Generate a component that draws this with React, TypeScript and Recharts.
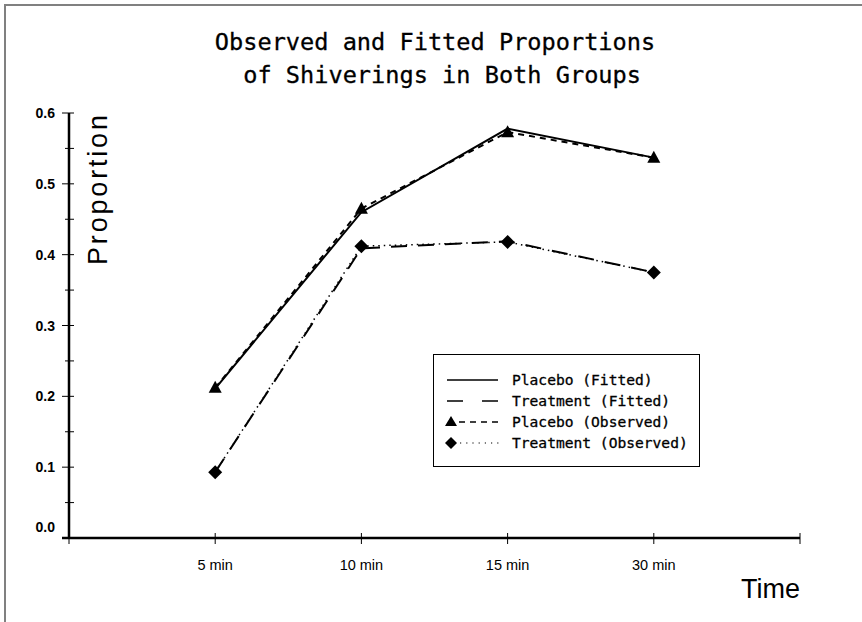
import React from "react";
import { LineChart, Line, XAxis, YAxis, Legend, Label } from "recharts";

const categories = ["5 min", "10 min", "15 min", "30 min"];
const placeboFitted = [0.211, 0.46, 0.578, 0.537];
const treatmentFitted = [0.093, 0.409, 0.419, 0.375];
const placeboObserved = [0.212, 0.465, 0.573, 0.537];
const treatmentObserved = [0.093, 0.412, 0.418, 0.375];
const xTicks = [0, 1, 2, 3, 4, 5];
const yTicks = [0, 0.05, 0.1, 0.15, 0.2, 0.25, 0.3, 0.35, 0.4, 0.45, 0.5, 0.55, 0.6];

const data = categories.map((label, i) => ({
  pos: i + 1,
  label,
  placeboFitted: placeboFitted[i],
  treatmentFitted: treatmentFitted[i],
  placeboObserved: placeboObserved[i],
  treatmentObserved: treatmentObserved[i],
}));

const mono = "'DejaVu Sans Mono', monospace";
const sans = "'Liberation Sans', Arial, sans-serif";

const renderTriangle = (props: any) => {
  const { cx, cy, index } = props;
  return (
    <path
      key={`tri-${index}`}
      d={`M${cx},${cy - 7} L${cx + 6.5},${cy + 5} L${cx - 6.5},${cy + 5} Z`}
      fill="#000"
    />
  );
};

const renderDiamond = (props: any) => {
  const { cx, cy, index } = props;
  return (
    <path
      key={`dia-${index}`}
      d={`M${cx},${cy - 7} L${cx + 7},${cy} L${cx},${cy + 7} L${cx - 7},${cy} Z`}
      fill="#000"
    />
  );
};

const series = [
  { key: "placeboFitted", name: "Placebo (Fitted)", dash: undefined, dot: false as any },
  { key: "treatmentFitted", name: "Treatment (Fitted)", dash: "16 11", dot: false as any },
  { key: "placeboObserved", name: "Placebo (Observed)", dash: "6 5", dot: renderTriangle },
  { key: "treatmentObserved", name: "Treatment (Observed)", dash: "1.5 4", dot: renderDiamond },
];

const XTick = (props: any) => {
  const { x, y, payload } = props;
  const label = categories[payload.value - 1];
  return (
    <g>
      <line x1={x} x2={x} y1={y - 5} y2={y + 6} stroke="#000" strokeWidth={1} />
      {payload.value === 0 && <line x1={x - 7} x2={x} y1={y} y2={y} stroke="#000" strokeWidth={2.5} />}
      {label && (
        <text x={x} y={y + 32} textAnchor="middle" fontFamily={sans} fontSize={14.5} fill="#000">
          {label}
        </text>
      )}
    </g>
  );
};

const YTick = (props: any) => {
  const { x, y, payload } = props;
  const v = payload.value;
  const major = Math.abs(Math.round(v * 10) - v * 10) < 1e-6;
  return (
    <g>
      <line x1={major ? x - 7 : x - 4} x2={x + 5} y1={y} y2={y} stroke="#000" strokeWidth={1} />
      {major && (
        <text
          x={x - 14}
          y={v === 0 ? y - 6 : y + 5}
          textAnchor="end"
          fontFamily={sans}
          fontWeight="bold"
          fontSize={14}
          fill="#000"
        >
          {v.toFixed(1)}
        </text>
      )}
    </g>
  );
};

const LegendBox = () => (
  <svg width={267} height={113} style={{ display: "block" }}>
    <rect x={0.5} y={0.5} width={266} height={112} fill="#fff" stroke="#000" strokeWidth={1} />
    {series.map((s, i) => {
      const cy = 26 + i * 21;
      return (
        <g key={s.key}>
          {s.key === "placeboObserved" && (
            <>
              <path d={`M18,${cy - 6} L24,${cy + 4} L12,${cy + 4} Z`} fill="#000" />
              <line x1={26} x2={66} y1={cy} y2={cy} stroke="#000" strokeWidth={1.5} strokeDasharray="6 5" />
            </>
          )}
          {s.key === "treatmentObserved" && (
            <>
              <path d={`M18,${cy - 6} L24,${cy} L18,${cy + 6} L12,${cy} Z`} fill="#000" />
              <line x1={27} x2={66} y1={cy} y2={cy} stroke="#000" strokeWidth={1.2} strokeDasharray="1.2 5" />
            </>
          )}
          {s.key === "placeboFitted" && (
            <line x1={14} x2={65} y1={cy} y2={cy} stroke="#000" strokeWidth={1.5} />
          )}
          {s.key === "treatmentFitted" && (
            <line x1={14} x2={65} y1={cy} y2={cy} stroke="#000" strokeWidth={1.5} strokeDasharray="16 19" />
          )}
          <text x={79} y={cy + 5} fontFamily={mono} fontSize={14.6} fill="#000" stroke="#000" strokeWidth={0.3}>
            {s.name}
          </text>
        </g>
      );
    })}
  </svg>
);

export default function App() {
  return (
    <div style={{ position: "absolute", left: 0, top: 0, width: 862, height: 622, background: "#fff" }}>
      <div
        style={{
          position: "absolute",
          left: 4,
          top: 4,
          width: 858,
          height: 618,
          borderTop: "2px solid #808080",
          borderLeft: "2px solid #808080",
          boxSizing: "border-box",
        }}
      />
      <div
        style={{
          position: "absolute",
          left: 0,
          top: 26,
          width: 870,
          textAlign: "center",
          fontFamily: mono,
          fontSize: 23.6,
          lineHeight: "33px",
          whiteSpace: "pre",
          color: "#000",
          WebkitTextStroke: "0.3px #000",
        }}
      >
        {"Observed and Fitted Proportions\n of Shiverings in Both Groups"}
      </div>
      <LineChart
        width={862}
        height={622}
        data={data}
        margin={{ top: 113, right: 62, bottom: 0, left: 0 }}
        style={{ position: "absolute", left: 0, top: 0 }}
      >
        <XAxis
          dataKey="pos"
          type="number"
          domain={[0, 5]}
          ticks={xTicks}
          height={84}
          tickSize={0}
          tickMargin={0}
          tickLine={false}
          tick={<XTick />}
          axisLine={{ stroke: "#000", strokeWidth: 2.5 }}
        >
          <Label
            content={(p: any) => {
              const vb = p.viewBox;
              return (
                <text
                  x={vb.x + vb.width}
                  y={vb.y + 60}
                  textAnchor="end"
                  fontFamily={sans}
                  fontSize={27}
                  fill="#000"
                >
                  Time
                </text>
              );
            }}
          />
        </XAxis>
        <YAxis
          type="number"
          domain={[0, 0.6]}
          ticks={yTicks}
          width={69}
          tickSize={0}
          tickMargin={0}
          tickLine={false}
          tick={<YTick />}
          interval={0}
          axisLine={{ stroke: "#000", strokeWidth: 2.5 }}
        >
          <Label
            content={(p: any) => {
              const vb = p.viewBox;
              const cx = vb.x + vb.width + 29;
              const cy = vb.y + 77;
              return (
                <text
                  x={cx}
                  y={cy}
                  transform={`rotate(-90 ${cx} ${cy})`}
                  textAnchor="middle"
                  dominantBaseline="central"
                  fontFamily={sans}
                  fontSize={27}
                  textLength={150}
                  lengthAdjust="spacing"
                  fill="#000"
                >
                  Proportion
                </text>
              );
            }}
          />
        </YAxis>
        <Legend
          layout="vertical"
          align="center"
          verticalAlign="middle"
          content={() => <LegendBox />}
          wrapperStyle={{ position: "absolute", left: 433, top: 354, width: 267, height: 113 }}
        />
        {series.map((s) => (
          <Line
            key={s.key}
            dataKey={s.key}
            name={s.name}
            type="linear"
            stroke="#000"
            strokeWidth={s.key === "treatmentObserved" ? 1.5 : 2}
            strokeDasharray={s.dash}
            dot={s.dot}
            activeDot={false}
            isAnimationActive={false}
          />
        ))}
      </LineChart>
    </div>
  );
}
